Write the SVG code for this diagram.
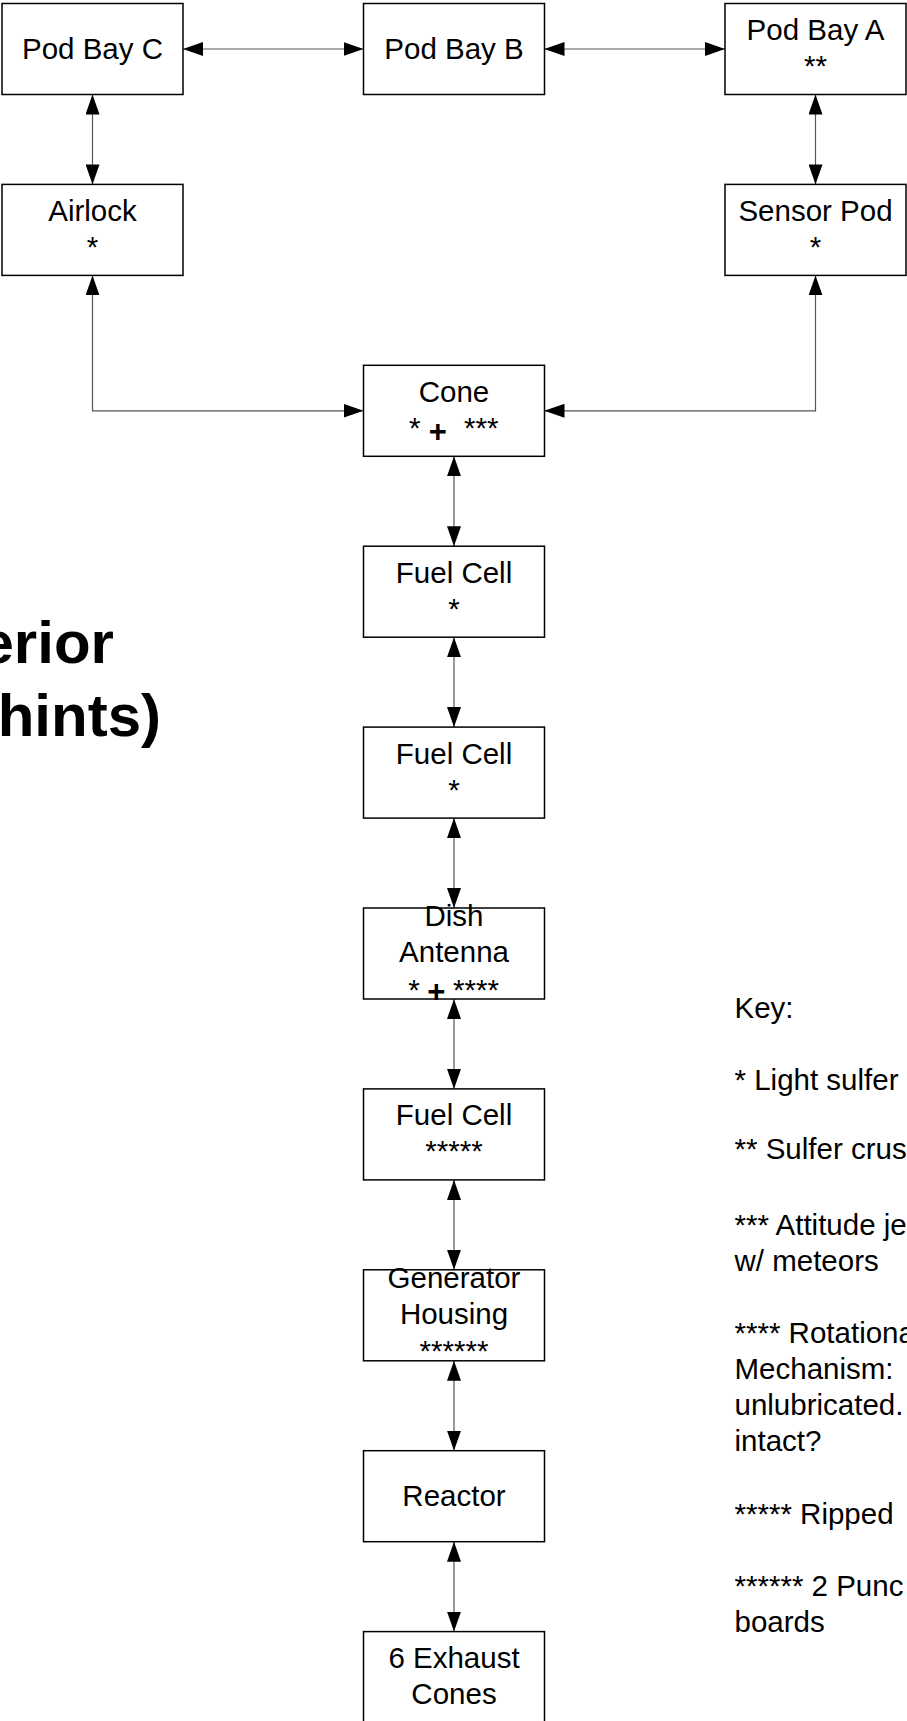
<svg xmlns="http://www.w3.org/2000/svg" width="907" height="1721" viewBox="0 0 907 1721">
<style>
.box{fill:#fff;stroke:#000;stroke-width:1.5}
.t{font-family:"Liberation Sans",Arial,sans-serif;font-size:29.5px;fill:#000}
.c{text-anchor:middle}
.plus{font-family:"Liberation Sans",Arial,sans-serif;font-size:31px;font-weight:bold;fill:#000;text-anchor:middle}
.title{font-family:"Liberation Sans",Arial,sans-serif;font-size:60px;font-weight:bold;fill:#000}
.conn{fill:none;stroke:#555;stroke-width:1.2;marker-start:url(#ah);marker-end:url(#ah)}
</style>
<defs>
<marker id="ah" viewBox="0 0 20 14" markerWidth="20" markerHeight="14" refX="20" refY="7" orient="auto-start-reverse" markerUnits="userSpaceOnUse">
<path d="M0,0 L20,7 L0,14 Z" fill="#000"/>
</marker>
</defs>
<rect width="907" height="1721" fill="#fff"/>
<g id="title">
<text class="title" x="-19.5" y="663.3">erior</text>
<text class="title" x="-2.3" y="736">hints)</text>
</g>
<g id="connectors">
<path class="conn" d="M183,49 H363.5"/>
<path class="conn" d="M544.5,49 H725"/>
<path class="conn" d="M92.5,94.5 V184.4"/>
<path class="conn" d="M815.5,94.5 V184.4"/>
<path class="conn" d="M92.5,275.4 V410.8 H363.5"/>
<path class="conn" d="M815.5,275.4 V410.8 H544.5"/>
<path class="conn" d="M454,456.3 V546.2"/>
<path class="conn" d="M454,637.2 V727.1"/>
<path class="conn" d="M454,818.1 V908"/>
<path class="conn" d="M454,999 V1088.9"/>
<path class="conn" d="M454,1179.9 V1269.8"/>
<path class="conn" d="M454,1360.8 V1450.7"/>
<path class="conn" d="M454,1541.7 V1631.6"/>
</g>
<g id="podbayC">
<rect class="box" x="2" y="3.5" width="181" height="91"/>
<text class="t c" x="92.5" y="58.5">Pod Bay C</text>
</g>
<g id="podbayB">
<rect class="box" x="363.5" y="3.5" width="181" height="91"/>
<text class="t c" x="454" y="58.5">Pod Bay B</text>
</g>
<g id="podbayA">
<rect class="box" x="725" y="3.5" width="181" height="91"/>
<text class="t c" x="815.5" y="40">Pod Bay A</text>
<text class="t c" x="815.5" y="76.1">**</text>
</g>
<g id="airlock">
<rect class="box" x="2" y="184.4" width="181" height="91"/>
<text class="t c" x="92.5" y="220.5">Airlock</text>
<text class="t c" x="92.5" y="257">*</text>
</g>
<g id="sensorpod">
<rect class="box" x="725" y="184.4" width="181" height="91"/>
<text class="t c" x="815.5" y="220.5">Sensor Pod</text>
<text class="t c" x="815.5" y="257">*</text>
</g>
<g id="cone">
<rect class="box" x="363.5" y="365.3" width="181" height="91"/>
<text class="t c" x="454" y="401.8">Cone</text>
<text class="t" x="409" y="437.8">*</text>
<text class="plus" x="437.9" y="441.5">+</text>
<text class="t" x="464" y="437.8">***</text>
</g>
<g id="fuelcell1">
<rect class="box" x="363.5" y="546.2" width="181" height="91"/>
<text class="t c" x="454" y="582.7">Fuel Cell</text>
<text class="t c" x="454" y="619">*</text>
</g>
<g id="fuelcell2">
<rect class="box" x="363.5" y="727.1" width="181" height="91"/>
<text class="t c" x="454" y="763.6">Fuel Cell</text>
<text class="t c" x="454" y="800">*</text>
</g>
<g id="dishantenna">
<rect class="box" x="363.5" y="908" width="181" height="91"/>
<text class="t c" x="454" y="926">Dish</text>
<text class="t c" x="454" y="962">Antenna</text>
<text class="t" x="408.3" y="999.5">*</text>
<text class="plus" x="436.2" y="1002">+</text>
<text class="t" x="453" y="999.5">****</text>
</g>
<g id="fuelcell3">
<rect class="box" x="363.5" y="1088.9" width="181" height="91"/>
<text class="t c" x="454" y="1125.4">Fuel Cell</text>
<text class="t c" x="454" y="1161">*****</text>
</g>
<g id="generator">
<rect class="box" x="363.5" y="1269.8" width="181" height="91"/>
<text class="t c" x="454" y="1287.5">Generator</text>
<text class="t c" x="454" y="1323.5">Housing</text>
<text class="t c" x="454" y="1360.5">******</text>
</g>
<g id="reactor">
<rect class="box" x="363.5" y="1450.7" width="181" height="91"/>
<text class="t c" x="454" y="1505.5">Reactor</text>
</g>
<g id="exhaust">
<rect class="box" x="363.5" y="1631.6" width="181" height="91"/>
<text class="t c" x="454" y="1668">6 Exhaust</text>
<text class="t c" x="454" y="1703.6">Cones</text>
</g>
<g id="key">
<text class="t" x="734.5" y="1017.5">Key:</text>
<text class="t" x="734.5" y="1089.5">* Light sulfer</text>
<text class="t" x="734.5" y="1159">** Sulfer crus</text>
<text class="t" x="734.5" y="1235">*** Attitude je</text>
<text class="t" x="734.5" y="1271">w/ meteors</text>
<text class="t" x="734.5" y="1343.3">**** Rotationa</text>
<text class="t" x="734.5" y="1378.8">Mechanism:</text>
<text class="t" x="734.5" y="1414.8">unlubricated.</text>
<text class="t" x="734.5" y="1450.8">intact?</text>
<text class="t" x="734.5" y="1523.5">***** Ripped</text>
<text class="t" x="734.5" y="1596">****** 2 Punc</text>
<text class="t" x="734.5" y="1632">boards</text>
</g>
</svg>
